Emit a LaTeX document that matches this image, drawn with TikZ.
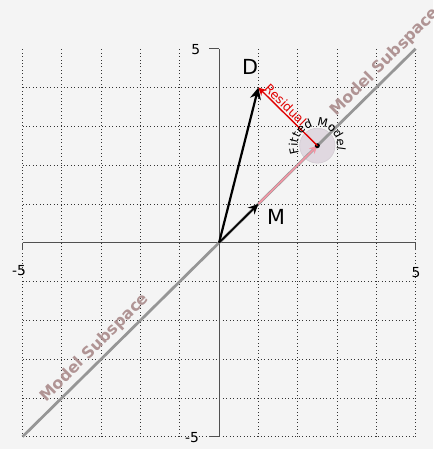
\documentclass[tikz,border=0pt]{standalone}
\usepackage{fontspec}
\setmainfont{DejaVu Sans}
\usepackage{xcolor}
\definecolor{bgpanel}{RGB}{244,244,244}
\definecolor{axisgray}{RGB}{80,80,80}
\definecolor{subgray}{RGB}{150,150,150}
\definecolor{subtext}{RGB}{176,148,148}
\definecolor{fitpink}{RGB}{242,150,165}
\definecolor{residred}{RGB}{225,0,0}
\definecolor{fitdisc}{RGB}{224,216,224}
\usepackage{tikz}
\usetikzlibrary{arrows.meta,decorations.text}

\begin{document}
\begin{tikzpicture}[x=1cm,y=0.987cm,font=\fontsize{10}{12}\selectfont]
  \fill[bgpanel] (-5.573,-5.317) rectangle (5.445,6.255);
  \useasboundingbox (-5.573,-5.317) rectangle (5.445,6.255);
  \foreach \k in {-5,...,5} \draw[dotted,black!80,line width=0.5pt] (\k,-5) -- (\k,5);
  \foreach \k in {-5,...,4} \draw[dotted,black!80,line width=0.5pt] (-5,\k) -- (5,\k);
  \draw[axisgray] (-5,0) -- (5,0);
  \draw[axisgray] (0,-5) -- (0,5);
  \draw[axisgray] (-5,0) -- (-5,-0.2);
  \draw[axisgray] (5,0) -- (5,-0.2);
  \draw[axisgray] (0,5) -- (-0.25,5);
  \draw[axisgray] (0,-5) -- (-0.25,-5);
  \node (xmin) at (-5.09,-0.73) {-5};
  \node (xmax) at (5.01,-0.78) {5};
  \node (ymax) at (-0.59,4.97) {5};
  \node (ymin) at (-0.69,-5.03) {-5};
  \coordinate (O) at (0,0);
  \coordinate (D) at (1,4);
  \coordinate (M) at (1,1);
  \coordinate (F) at (2.5,2.5);
  \coordinate (S1) at (-5,-5);
  \coordinate (S2) at (5,5);
  \fill[fitdisc,draw=fitdisc!85!gray] (F) circle (0.45);
  \draw[subgray,line width=2pt] (S1) -- (S2);
  \draw[fitpink,line width=1.2pt,-{Stealth[length=2mm,width=2mm]}] (M) -- (F);
  \fill (F) circle (1.8pt);
  \draw[residred,line width=1pt,-{Stealth[length=2mm,width=2mm]}] (F) -- node[sloped,above,pos=0.62,inner sep=1pt,font=\fontsize{9}{10}\selectfont]{Residual} (D);
  \draw[line width=1.6pt,-{Stealth[length=3mm,width=2.8mm]}] (O) -- (D);
  \draw[line width=1.2pt,-{Stealth[length=2.6mm,width=2.4mm]}] (O) -- (M);
  \node[font=\fontsize{15}{18}\selectfont] (Dlab) at (0.79,4.53) {D};
  \node[font=\fontsize{15}{18}\selectfont] (Mlab) at (1.45,0.66) {M};
  \node[rotate=45,text=subtext,font=\fontsize{11.5}{13}\selectfont\bfseries] (subtop) at (4.22,4.65) {Model Subspace};
  \node[rotate=45,text=subtext,font=\fontsize{11.5}{13}\selectfont\bfseries] (subbot) at (-3.16,-2.71) {Model Subspace};
  \path[decorate,decoration={text along path,text={|\fontsize{8.5}{10}\selectfont|Fitted Model},text align=center}]
    (F) ++(215:0.5) arc[start angle=215,end angle=-25,radius=0.5];
\end{tikzpicture}
\end{document}
